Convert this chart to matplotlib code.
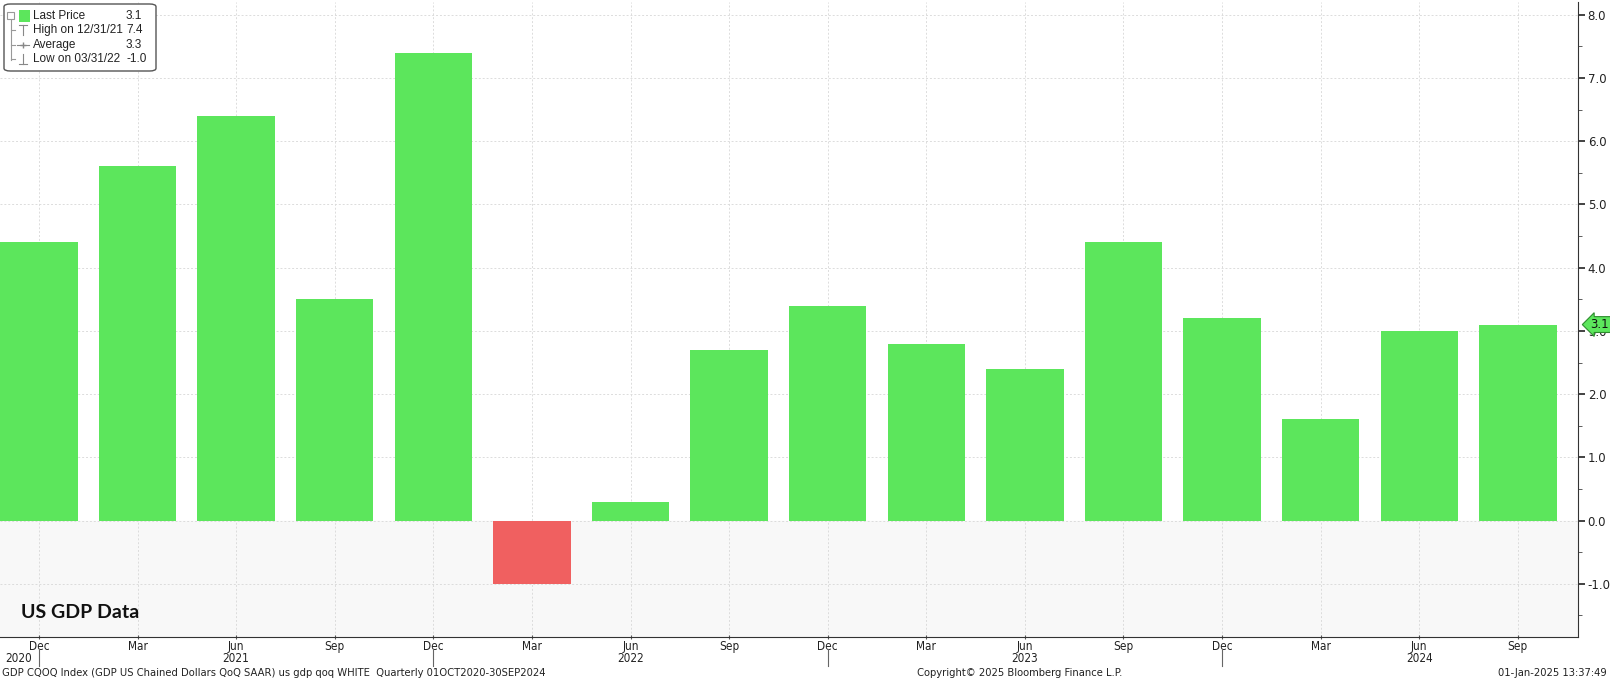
"""
US GDP QoQ SAAR bar chart, Bloomberg style
"""

import matplotlib
matplotlib.use('Agg')
import matplotlib.pyplot as plt
import matplotlib.transforms as mtransforms
from matplotlib.patches import FancyBboxPatch, Rectangle
from matplotlib.ticker import MultipleLocator

# data
months = ['Dec', 'Mar', 'Jun', 'Sep', 'Dec', 'Mar', 'Jun', 'Sep',
          'Dec', 'Mar', 'Jun', 'Sep', 'Dec', 'Mar', 'Jun', 'Sep']
years = [2020, 2021, 2021, 2021, 2021, 2022, 2022, 2022,
         2022, 2023, 2023, 2023, 2023, 2024, 2024, 2024]
gdp = [4.4, 5.6, 6.4, 3.5, 7.4, -1.0, 0.3, 2.7,
       3.4, 2.8, 2.4, 4.4, 3.2, 1.6, 3.0, 3.1]
legend_rows = [('Last Price', '3.1'), ('High on 12/31/21', '7.4'),
               ('Average', '3.3'), ('Low on 03/31/22', '-1.0')]
last_price = 3.1

GREEN = '#5ce65c'
RED = '#f06060'
W, H = 1610, 680


def fx(px):
    return px / W


def fy(py):
    return 1 - py / H


def cond_text(x, y, s, **kw):
    # condensed font for axis labels / footer
    return fig.text(x, y, s, family='DejaVu Sans', fontstretch='condensed', **kw)


fig = plt.figure(figsize=(16.1, 6.8), dpi=100)
ax = fig.add_axes([0.0, fy(637), fx(1578), 635 / H])

x = list(range(len(gdp)))
colors = [GREEN if v >= 0 else RED for v in gdp]
ax.bar(x, gdp, width=0.785, color=colors, zorder=3)

ax.set_xlim(-0.395, 15.61)
ax.set_ylim(-1.84, 8.2)

# light background below zero
ax.axhspan(-1.84, 0, color='#f8f8f8', zorder=0)

ax.grid(True, which='major', color='#dcdcdc', linestyle=(0, (2, 2)), linewidth=0.7, zorder=1)

# right y axis
ax.yaxis.tick_right()
ax.yaxis.set_major_locator(MultipleLocator(1.0))
ax.yaxis.set_minor_locator(MultipleLocator(0.5))
ax.yaxis.set_major_formatter(lambda v, p: f'{v:.1f}')
ax.tick_params(axis='y', which='major', length=5, width=1.2, direction='out',
               labelsize=8.5, colors='#222222', pad=2)
ax.tick_params(axis='y', which='minor', length=3, direction='out', color='#444444')

for s in ['top', 'left']:
    ax.spines[s].set_visible(False)
ax.spines['right'].set_color('#333333')
ax.spines['bottom'].set_color('#333333')

# x ticks: month labels
ax.set_xticks(x)
ax.set_xticklabels(months, fontsize=8.5, fontstretch='condensed', color='#222222')
ax.tick_params(axis='x', length=3, direction='inout', pad=1, color='#555555')

# year labels and separators
trans = mtransforms.blended_transform_factory(ax.transData, fig.transFigure)
ax.text(x[0] - 0.07, fy(658), str(years[0]), transform=trans, ha='right',
        va='center', fontsize=8.5, fontstretch='condensed', color='#222222')
for i, (m, yr) in enumerate(zip(months, years)):
    if m == 'Jun':
        ax.text(i, fy(658), str(yr), transform=trans, ha='center',
                va='center', fontsize=8.5, fontstretch='condensed', color='#222222')
    if m == 'Dec':
        ax.plot([i, i], [fy(649), fy(666)], transform=trans,
                color='#666666', linewidth=0.8, clip_on=False)

# last price tag
ytrans = mtransforms.blended_transform_factory(ax.transAxes, ax.transData)
ax.text(1.008, last_price, f'{last_price:.1f}', transform=ytrans, ha='left', va='center',
        fontsize=8.5, color='#111111', zorder=5,
        bbox=dict(boxstyle='larrow,pad=0.12', fc=GREEN, ec='#2e8b2e', lw=0.8))

# title in plot
fig.text(fx(21), fy(613), 'US GDP Data', fontsize=14, fontweight='bold',
         family=['Lato', 'DejaVu Sans'], va='center', ha='left', color='#111111')

# legend box
box = FancyBboxPatch((fx(4), fy(71)), 152 / W, 67 / H,
                     boxstyle='round,pad=0,rounding_size=0.004', transform=fig.transFigure,
                     fc='white', ec='#555555', lw=1.0, zorder=10)
fig.patches.append(box)
fig.patches.append(Rectangle((fx(19), fy(22)), 11 / W, 12 / H,
                             transform=fig.transFigure, fc=GREEN, ec='none', zorder=11))


def fline(xs, ys, color='#999999', lw=0.8):
    fig.lines.append(plt.Line2D([fx(v) for v in xs], [fy(v) for v in ys],
                                transform=fig.transFigure, color=color, lw=lw, zorder=11))


# tree: collapse box and branch lines
fig.patches.append(Rectangle((fx(7), fy(19)), 7 / W, 7 / H, transform=fig.transFigure,
                             fc='white', ec='#999999', lw=0.8, zorder=11))
fline([8.5, 12.5], [15.5, 15.5])
fline([10.5, 10.5], [19, 60])
row_y = [16 + 14.3 * k for k in range(len(legend_rows))]
for k, (label, val) in enumerate(legend_rows):
    yy = row_y[k]
    fig.text(fx(33), fy(yy), label, fontsize=8.5, family='Liberation Sans', va='center',
             ha='left', color='#222222', zorder=12)
    fig.text(fx(126), fy(yy), val, fontsize=8.5, family='Liberation Sans', va='center',
             ha='left', color='#222222', zorder=12)
    if k > 0:
        fline([10.5, 15], [yy, yy])
# high icon (T)
fline([19, 27], [row_y[1] - 5, row_y[1] - 5], color='#888888')
fline([23, 23], [row_y[1] - 5, row_y[1] + 5], color='#888888')
# average icon
fline([17, 29], [row_y[2], row_y[2]], color='#888888')
fig.lines.append(plt.Line2D([fx(23)], [fy(row_y[2])], marker='+', ms=5, color='#888888',
                            transform=fig.transFigure, zorder=11))
# low icon (inverted T)
fline([19, 27], [row_y[3] + 5, row_y[3] + 5], color='#888888')
fline([23, 23], [row_y[3] - 5, row_y[3] + 5], color='#888888')

# footer
cond_text(fx(2), fy(673),
          'GDP CQOQ Index (GDP US Chained Dollars QoQ SAAR) us gdp qoq WHITE  Quarterly 01OCT2020-30SEP2024',
          fontsize=8, va='center', ha='left', color='#222222')
cond_text(fx(1020), fy(673), 'Copyright\u00a9 2025 Bloomberg Finance L.P.',
          fontsize=8, va='center', ha='center', color='#222222')
cond_text(fx(1607), fy(673), '01-Jan-2025 13:37:49',
          fontsize=8, va='center', ha='right', color='#222222')

fig.savefig('out.png', dpi=100, facecolor='white')
